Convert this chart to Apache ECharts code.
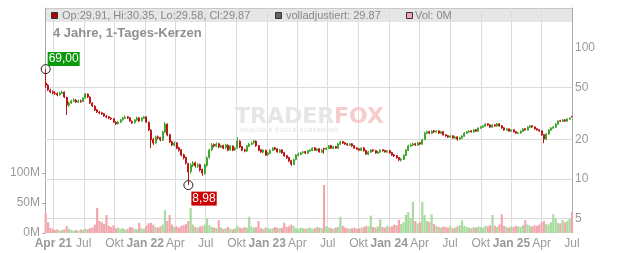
<!DOCTYPE html>
<html><head><meta charset="utf-8">
<script src="https://cdn.jsdelivr.net/npm/echarts@6/dist/echarts.min.js"></script>
<style>html,body{margin:0;padding:0;background:#fff}#c{width:632px;height:253px}</style>
</head><body><div id="c"></div>
<script>
// weekly candles [open, close, low, high], last one ends 2025-07-01
const lastDate = '2025-07-01';
const candles = [
[54.0,52.2,49.5,69.0],[52.0,47.8,47.0,53.1],[47.5,46.1,45.2,49.0],[46.3,45.4,44.2,47.4],[45.2,44.9,43.8,46.8],
[45.0,43.8,42.9,45.9],[43.9,45.4,43.2,46.4],[45.2,46.1,44.5,47.3],[46.0,42.3,41.5,46.6],[42.0,36.7,30.8,42.5],
[36.5,38.0,35.4,39.0],[38.1,39.4,37.4,40.3],[39.2,40.1,38.6,41.2],[40.0,38.7,38.0,40.8],[38.6,39.4,37.9,40.2],
[39.5,39.0,38.2,40.4],[39.1,41.5,38.6,42.0],[41.4,44.6,40.9,45.4],[44.5,42.3,41.6,45.0],[42.2,38.0,37.4,42.7],
[38.0,36.1,35.5,38.6],[36.0,33.6,33.0,36.5],[33.7,32.5,31.9,34.3],[32.4,31.9,31.2,33.1],[32.0,31.4,30.8,32.6],
[31.5,30.3,29.8,31.9],[30.2,29.7,29.1,30.8],[29.8,29.2,28.6,30.3],[29.1,28.7,28.2,29.7],[28.8,27.2,26.9,29.2],
[27.1,26.3,25.9,27.6],[26.4,27.2,26.0,27.7],[27.1,28.2,26.8,28.7],[28.3,29.2,27.9,29.8],[29.1,29.7,28.7,30.4],
[29.8,29.2,28.7,30.2],[29.3,27.7,27.3,29.6],[27.6,26.8,26.3,28.0],[26.9,28.2,26.5,28.7],[28.1,29.2,27.8,29.9],
[29.3,27.7,27.2,29.6],[27.8,29.2,27.4,29.6],[29.1,29.7,28.8,30.4],[29.8,27.2,26.8,30.0],[27.1,23.7,23.2,27.4],
[23.6,19.9,17.2,24.0],[20.0,18.8,18.2,20.6],[18.9,20.9,18.5,21.4],[21.0,20.6,20.0,21.5],[20.7,19.9,19.4,21.0],
[19.8,22.9,19.5,23.3],[22.8,26.3,22.4,27.2],[26.2,21.7,21.2,26.6],[21.8,19.2,18.8,22.1],[19.3,18.2,17.8,19.6],
[18.1,18.8,17.7,19.3],[18.9,17.2,16.9,19.1],[17.3,16.6,16.2,17.6],[16.7,15.2,14.9,16.9],[15.3,14.5,14.1,15.6],
[14.6,13.2,12.9,14.8],[13.1,11.3,8.98,13.3],[11.4,12.8,11.0,13.2],[12.7,13.2,12.3,13.7],[13.3,12.6,12.2,13.6],
[12.5,12.8,12.1,13.2],[12.9,11.7,11.4,13.1],[11.8,11.1,10.6,12.0],[11.0,12.8,10.8,13.1],[12.7,14.5,12.4,14.9],
[14.6,16.6,14.3,17.1],[16.7,18.2,16.3,18.8],[18.3,17.9,17.4,18.7],[17.8,18.5,17.5,19.0],[18.6,17.6,17.2,18.9],
[17.5,17.9,17.2,18.3],[18.0,17.2,16.9,18.3],[17.3,18.2,17.0,18.6],[18.1,16.6,16.3,18.4],[16.7,17.9,16.4,18.2],
[17.8,16.6,16.3,18.1],[16.7,17.2,16.4,17.6],[17.3,19.5,17.0,20.9],[19.4,17.6,17.2,19.7],[17.7,16.6,16.3,17.9],
[16.7,16.4,16.0,17.0],[16.3,17.9,16.1,18.2],[17.8,18.5,17.5,18.9],[18.4,18.8,18.1,19.3],[18.9,19.5,18.6,19.9],
[19.4,17.9,17.6,19.7],[18.0,16.6,16.3,18.2],[16.7,16.1,15.8,16.9],[16.0,16.6,15.7,16.9],[16.5,15.2,15.0,16.8],
[15.3,15.8,15.0,16.1],[15.7,16.6,15.5,16.9],[16.5,17.2,16.3,17.5],[17.3,16.9,16.6,17.6],[17.0,16.1,15.9,17.2],
[16.0,16.6,15.8,16.9],[16.7,15.8,15.6,16.9],[15.9,15.0,14.8,16.1],[15.1,14.5,14.2,15.3],[14.6,13.7,13.5,14.8],
[13.8,13.0,12.6,14.0],[12.9,14.0,12.8,14.3],[14.1,15.2,13.9,15.5],[15.1,15.5,14.9,15.9],[15.4,15.8,15.2,16.1],
[15.9,16.1,15.6,16.4],[16.2,15.8,15.5,16.4],[15.7,16.4,15.5,16.7],[16.3,16.6,16.1,16.9],[16.5,17.2,16.3,17.5],
[17.3,16.6,16.4,17.5],[16.5,16.9,16.3,17.2],[17.0,16.1,15.9,17.2],[16.0,16.6,15.8,16.9],[17.1,16.9,15.6,17.3],
[16.8,17.2,16.6,17.5],[17.1,17.9,16.9,18.2],[18.0,17.2,17.0,18.2],[17.1,17.6,16.9,17.9],[17.7,17.2,17.0,17.9],
[17.1,18.5,17.0,18.8],[18.4,19.2,18.2,19.6],[19.3,18.8,18.5,19.5],[18.9,18.5,18.2,19.1],[18.6,18.2,17.9,18.8],
[18.1,18.5,17.9,18.8],[18.6,17.9,17.6,18.8],[18.0,17.2,17.0,18.1],[17.3,16.9,16.7,17.5],[17.0,16.6,16.3,17.1],
[16.5,17.2,16.3,17.5],[17.3,16.4,16.2,17.5],[16.5,15.5,15.3,16.7],[15.4,16.1,15.2,16.4],[16.0,16.6,15.8,16.9],
[16.7,16.4,16.1,16.9],[16.5,15.8,15.6,16.7],[15.7,16.1,15.5,16.4],[16.0,16.6,15.8,16.9],[16.7,16.4,16.2,16.9],
[16.5,16.1,15.9,16.7],[16.0,16.4,15.8,16.7],[16.5,15.8,15.6,16.7],[15.9,15.2,15.0,16.1],[15.3,15.0,14.7,15.5],
[15.1,14.5,14.3,15.2],[14.6,14.0,13.7,14.7],[13.9,14.2,13.6,14.5],[14.1,15.2,14.0,15.4],[15.1,16.6,15.0,16.9],
[16.5,17.9,16.4,18.3],[17.8,18.2,17.5,18.7],[18.1,18.5,17.9,19.0],[18.6,18.2,17.9,18.9],[18.1,18.8,17.9,19.2],
[18.9,18.5,18.2,19.2],[18.4,19.9,18.3,20.3],[20.0,22.4,19.8,22.9],[22.3,22.9,22.0,23.4],[23.0,22.4,22.0,23.3],
[22.3,23.2,22.0,23.6],[23.3,22.9,22.5,23.7],[22.8,23.2,22.5,23.6],[23.3,22.4,22.1,23.5],[22.3,22.9,22.1,23.3],
[23.0,21.7,21.4,23.1],[21.8,21.3,21.0,22.0],[21.4,20.9,20.6,21.6],[20.8,21.3,20.6,21.6],[21.4,20.6,20.3,21.5],
[20.5,20.9,20.3,21.3],[21.0,20.2,19.6,21.1],[20.1,20.6,19.9,21.0],[20.5,21.3,20.3,21.6],[21.2,22.4,21.0,22.8],
[22.3,22.9,22.1,23.3],[22.8,23.2,22.6,23.6],[23.3,22.9,22.6,23.5],[22.8,23.7,22.6,24.1],[23.8,23.2,22.9,24.0],
[23.1,24.5,23.0,24.8],[24.4,24.9,24.1,25.4],[24.8,25.4,24.6,25.8],[25.3,26.3,25.1,26.7],[26.4,25.8,25.4,26.7],
[25.9,24.9,24.6,26.1],[24.8,25.8,24.6,26.2],[25.9,25.4,25.0,26.2],[25.3,26.3,25.1,26.8],[26.4,25.4,25.1,26.6],
[25.5,24.5,24.2,25.7],[24.6,23.7,23.4,24.8],[23.6,24.1,23.4,24.4],[24.2,23.2,22.9,24.3],[23.1,23.7,22.9,24.0],
[23.8,22.9,22.6,23.9],[23.0,22.4,22.1,23.1],[22.3,22.5,22.0,22.9],[22.4,23.2,22.2,23.5],[23.1,24.1,22.9,24.4],
[24.2,23.7,23.4,24.4],[23.6,24.9,23.5,25.3],[24.8,25.4,24.6,25.8],[25.5,24.9,24.6,25.7],[25.0,24.1,23.8,25.2],
[24.2,23.7,23.4,24.4],[23.8,23.2,22.9,23.9],[23.3,21.7,21.4,23.4],[21.8,20.2,18.8,21.9],[20.1,22.1,19.9,22.4],
[22.0,23.7,21.8,24.0],[23.6,24.5,23.4,24.9],[24.4,24.9,24.2,25.4],[24.8,26.3,24.6,26.7],[26.2,27.7,26.0,28.1],
[27.8,27.6,27.2,28.3],[27.5,28.2,27.3,28.6],[28.3,27.7,27.4,28.6],[27.6,28.7,27.4,29.0],[28.6,29.2,28.4,29.6],
[29.91,29.87,29.58,30.35]
];
// volume in millions, one per candle
const volumes = [
33,18,9,7,5,6,4,5,6,12, 7,5,4,5,4,6,5,7,6,8, 9,14,42,20,18,15,30,12,10,13,
8,9,7,8,6,7,10,9,7,6, 17,8,7,12,16,17,14,10,9,11, 14,38,20,30,14,10,11,9,12,13,
15,20,42,14,10,9,11,12,14,25, 13,10,9,8,21,9,7,8,10,7, 6,8,12,9,8,10,9,27,11,9,
10,20,8,7,9,8,7,8,10,9, 8,9,17,10,11,14,12,8,7,9, 8,7,8,9,7,8,10,9,8,80,
11,9,8,7,9,10,27,12,9,8, 7,8,9,7,8,9,10,12,11,29, 10,9,11,23,10,9,12,10,11,14,
13,22,15,18,30,35,25,52,20,16, 18,52,30,20,18,31,15,12,10,9, 11,10,9,12,8,9,11,13,21,12,
10,9,8,10,9,11,10,9,12,11, 13,30,12,10,14,31,12,10,9,11, 10,12,11,10,13,21,14,12,11,13,
12,14,18,20,15,14,18,31,25,17, 16,22,18,20,24,35
];
const tickDates = ['2021-04-01','2021-07-01','2021-10-01','2022-01-01','2022-04-01','2022-07-01','2022-10-01','2023-01-01','2023-04-01','2023-07-01','2023-10-01','2024-01-01','2024-04-01','2024-07-01','2024-10-01','2025-01-01','2025-04-01','2025-07-01'];
const tickLabels = ['Apr 21','Jul','Okt','Jan 22','Apr','Jul','Okt','Jan 23','Apr','Jul','Okt','Jan 24','Apr','Jul','Okt','Jan 25','Apr','Jul'];
const priceLevels = [5, 10, 20, 50, 100];
const volTicks = [0, 50, 100];

function toT(s){ const p = s.split('-'); return Date.UTC(+p[0], +p[1]-1, +p[2]); }
const DAY = 86400000;
const endT = toT(lastDate);
const times = candles.map((c, i) => endT - (candles.length - 1 - i) * 7 * DAY);
const tickTimes = tickDates.map(toT);

const candleData = candles.map((c, i) => [times[i], c[0], c[1], c[2], c[3]]);
const volData = volumes.map((v, i) => [times[i], v]);

const chart = echarts.init(document.getElementById('c'));
const font = "'Liberation Sans', Arial, sans-serif";
chart.setOption({
  animation: false,
  textStyle: { fontFamily: font },
  grid: { left: 45, right: 60, top: 8, bottom: 20, containLabel: false, outerBoundsMode: 'none' },
  xAxis: {
    type: 'value', min: toT('2021-03-07'), max: endT, scale: true,
    axisLine: { show: false }, axisTick: { show: false, customValues: tickTimes },
    splitLine: { show: true, lineStyle: { color: '#dcdcdc', width: 1 } },
    axisLabel: {
      customValues: tickTimes, hideOverlap: false, color: '#999', fontSize: 12, margin: 5,
      formatter: function (v) {
        let k = 0;
        for (let i = 0; i < tickTimes.length; i++) if (Math.abs(tickTimes[i] - v) < DAY) k = i;
        const s = tickLabels[k];
        return s.indexOf(' ') > 0 ? '{b|' + s + '}' : s;
      },
      rich: { b: { fontWeight: 'bold', color: '#999', fontSize: 12, fontFamily: font } }
    }
  },
  yAxis: [
    { type: 'log', logBase: 10, position: 'right', min: 3.87, max: 202,
      axisLine: { show: true, onZero: false, lineStyle: { color: '#aaa' } },
      axisTick: { show: false }, axisLabel: { show: false }, splitLine: { show: false } },
    { type: 'value', position: 'left', min: 0, max: 375,
      axisLine: { show: true, onZero: false, lineStyle: { color: '#aaa' } },
      axisTick: { show: true, length: 3, customValues: volTicks, lineStyle: { color: '#aaa' } },
      axisLabel: { customValues: volTicks, formatter: v => v + 'M', color: '#999', fontSize: 12, margin: 5 },
      splitLine: { show: false } }
  ],
  series: [
    { type: 'bar', yAxisIndex: 1, data: volData, barWidth: 2.2, silent: true,
      itemStyle: { color: p => (candles[p.dataIndex][1] >= candles[p.dataIndex][0] ? '#a9dba0' : '#f2a6ae') } },
    { type: 'candlestick', yAxisIndex: 0, data: candleData, barWidth: 1.5, silent: true,
      itemStyle: { color: '#3fa82e', color0: '#bb1616', borderColor: '#3fa82e', borderColor0: '#bb1616', borderWidth: 1 },
      markLine: {
        silent: true, z: 1, symbol: ['none', 'none'],
        lineStyle: { color: '#dcdcdc', width: 1, type: 'solid' },
        label: { show: true, position: 'end', distance: 3, color: '#999', fontSize: 12, formatter: p => String(p.value) },
        emphasis: { disabled: true },
        data: priceLevels.map(v => v === 100 ? { yAxis: v, lineStyle: { color: 'rgba(0,0,0,0)' } } : { yAxis: v })
      },
      markPoint: {
        silent: true, symbol: 'circle', symbolSize: 9,
        itemStyle: { color: 'rgba(0,0,0,0)', borderColor: '#222', borderWidth: 1 },
        emphasis: { disabled: true },
        data: [
          { type: 'max', valueDim: 'highest',
            label: { show: true, position: [7, -12], align: 'left', verticalAlign: 'top', color: '#fff',
              backgroundColor: '#0a9a0a', padding: [1, 1], fontSize: 12,
              formatter: p => p.value.toFixed(2).replace('.', ',') } },
          { type: 'min', valueDim: 'lowest',
            label: { show: true, position: [8, 11.5], align: 'left', verticalAlign: 'top', color: '#fff',
              backgroundColor: '#cc0000', padding: [1, 1], fontSize: 12,
              formatter: p => p.value.toFixed(2).replace('.', ',') } }
        ]
      }
    }
  ],
  graphic: [
    { type: 'rect', z: -1, shape: { x: 45, y: 8, width: 527, height: 14 }, style: { fill: '#e6e6e6' } },
    { type: 'line', z: -1, shape: { x1: 45, y1: 8.5, x2: 572, y2: 8.5 }, style: { stroke: '#c8c8c8', lineWidth: 1 } },
    { type: 'rect', z: 5, shape: { x: 51.5, y: 12.5, width: 6, height: 6 }, style: { fill: '#b00000', stroke: '#333', lineWidth: 1 } },
    { type: 'text', z: 5, style: { text: 'Op:29.91, Hi:30.35, Lo:29.58, Cl:29.87', x: 62, y: 15.5, font: '11px ' + font, fill: '#888', align: 'left', verticalAlign: 'middle', textAlign: 'left', textVerticalAlign: 'middle' } },
    { type: 'rect', z: 5, shape: { x: 275.5, y: 12.5, width: 6, height: 6 }, style: { fill: '#666', stroke: '#333', lineWidth: 1 } },
    { type: 'text', z: 5, style: { text: 'volladjustiert: 29.87', x: 286, y: 15.5, font: '11px ' + font, fill: '#888', align: 'left', verticalAlign: 'middle', textAlign: 'left', textVerticalAlign: 'middle' } },
    { type: 'rect', z: 5, shape: { x: 406.5, y: 12.5, width: 6, height: 6 }, style: { fill: '#f4a6b0', stroke: '#333', lineWidth: 1 } },
    { type: 'text', z: 5, style: { text: 'Vol: 0M', x: 415, y: 15.5, font: '11px ' + font, fill: '#888', align: 'left', verticalAlign: 'middle', textAlign: 'left', textVerticalAlign: 'middle' } },
    { type: 'text', z: 5, style: { text: '4 Jahre, 1-Tages-Kerzen', x: 53, y: 33, font: 'bold 13px ' + font, fill: '#8f8f8f', align: 'left', verticalAlign: 'middle', textAlign: 'left', textVerticalAlign: 'middle' } },
    { type: 'text', z: 1, style: { text: 'TRADER', x: 235, y: 117, font: 'bold 22px "DejaVu Sans"', fill: '#e6e6e6', align: 'left', verticalAlign: 'middle', textAlign: 'left', textVerticalAlign: 'middle' } },
    { type: 'text', z: 1, style: { text: 'FOX', x: 334, y: 117, font: 'bold 22px "DejaVu Sans"', fill: '#f7cccc', align: 'left', verticalAlign: 'middle', textAlign: 'left', textVerticalAlign: 'middle' } },
    { type: 'text', z: 1, style: { text: 'REALTIME STOCK SCREENING', x: 240, y: 130, font: 'bold 6px "DejaVu Sans"', fill: '#ececec', align: 'left', verticalAlign: 'middle', textAlign: 'left', textVerticalAlign: 'middle' } }
  ]
});
</script>
</body></html>
